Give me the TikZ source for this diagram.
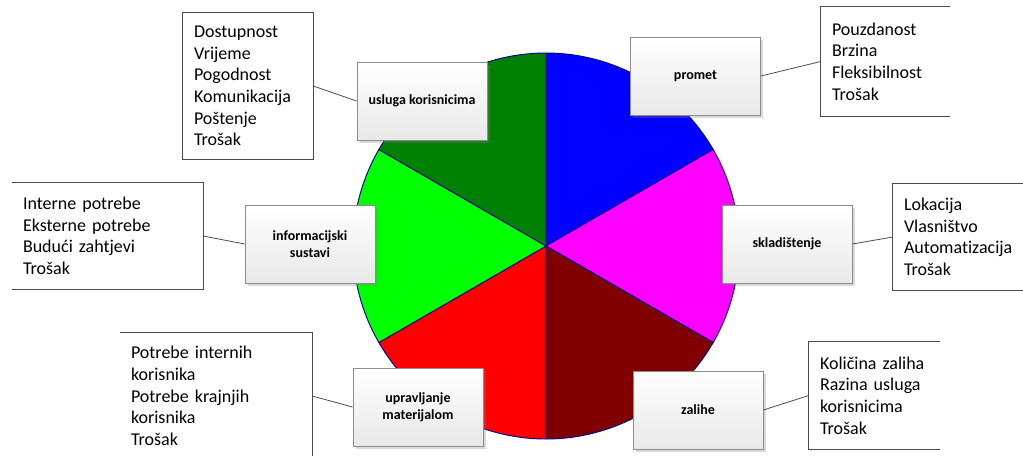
\documentclass[tikz,border=0pt]{standalone}
\usepackage{fontspec}
\setmainfont{Carlito}[Ligatures=NoCommon, Contextuals=NoAlternate]
\usetikzlibrary{shadows}
\definecolor{pieblue}{RGB}{0,0,255}
\definecolor{piemagenta}{RGB}{255,0,255}
\definecolor{piemaroon}{RGB}{128,0,0}
\definecolor{piered}{RGB}{255,0,0}
\definecolor{pielime}{RGB}{0,255,0}
\definecolor{piegreen}{RGB}{0,128,0}
\definecolor{pieline}{RGB}{0,0,140}
\tikzset{
  labelbox/.style={draw=gray!90, line width=0.6pt, top color=white, bottom color=gray!18,
    minimum width=97.5pt, minimum height=58.5pt, align=center,
    font=\bfseries\fontsize{10.5}{12.75}\selectfont,
    drop shadow={shadow xshift=2pt, shadow yshift=-2pt, opacity=0.3}},
  listbox/.style={inner xsep=8.25pt, inner ysep=0pt, align=left,
    font=\fontsize{13.5}{16.2}\selectfont},
  boxedge/.style={draw=gray!60!black, line width=0.7pt},
  link/.style={draw=gray!60!black, line width=0.6pt},
}
\begin{document}
\begin{tikzpicture}[x=0.75pt, y=-0.75pt]
		\useasboundingbox (0,0) rectangle (1023,455);
		
		% Pie centre
		\coordinate (C) at (546,246);
		
		% Pie sectors
		\foreach \a/\col in {-90/pieblue, -30/piemagenta, 30/piemaroon, 90/piered, 150/pielime, 210/piegreen}
		\filldraw[fill=\col, draw=pieline, line width=0.7pt] (C) -- ++(\a:193) arc[start angle=\a, end angle=\a+60, radius=193] -- cycle;
		
		% Labels on the pie
		\node[labelbox] (promet) at (695.5,76) {promet};
		\node[labelbox] (usluga) at (422,101) {usluga korisnicima};
		\node[labelbox] (info) at (310,244) {informacijski\\sustavi};
		\node[labelbox] (sklad) at (787,244) {skladištenje};
		\node[labelbox] (upravlj) at (418,407) {upravljanje\\materijalom};
		\node[labelbox] (zalihe) at (698,410) {zalihe};
		
		% Lists
		\node[listbox, text width=80.25pt, minimum height=81.75pt] (pouz) at (885.5,61.5) {Pouzdanost\\Brzina\\Fleksibilnost\\Trošak};
		\node[listbox, text width=81pt, minimum height=109.5pt] (dost) at (248,86) {Dostupnost\\Vrijeme\\Pogodnost\\Komunikacija\\Poštenje\\Trošak};
		\node[listbox, text width=126.75pt, minimum height=79.5pt] (intern) at (107.5,236) {Interne potrebe\\Eksterne potrebe\\Budući zahtjevi\\Trošak};
		\node[listbox, text width=81pt, minimum height=79.5pt] (lokac) at (958,237) {Lokacija\\Vlasništvo\\Automatizacija\\Trošak};
		\node[listbox, text width=127.5pt, minimum height=94.5pt] (potreb) at (216,396) {Potrebe internih\\korisnika\\Potrebe krajnjih\\korisnika\\Trošak};
		\node[listbox, text width=81.75pt, minimum height=80.25pt] (kolic) at (874.5,395.5) {Količina zaliha\\Razina usluga\\korisnicima\\Trošak};
		
		% Edges of the lists
		\draw[boxedge] (dost.north west) rectangle (dost.south east);
		\foreach \b in {pouz,lokac,kolic}
		\draw[boxedge] (\b.north east) -- (\b.north west) -- (\b.south west) -- (\b.south east);
		\foreach \b in {intern,potreb}
		\draw[boxedge] (\b.north west) -- (\b.north east) -- (\b.south east) -- (\b.south west);
		
		% Connectors
		\draw[link] (promet.east) -- (pouz.west);
		\draw[link] (usluga.west) -- (dost.east);
		\draw[link] (info.west) -- (intern.east);
		\draw[link] (sklad.east) -- (lokac.west);
		\draw[link] (upravlj.west) -- (potreb.east);
		\draw[link] (zalihe.east) -- (kolic.west);
	\end{tikzpicture}
\end{document}
